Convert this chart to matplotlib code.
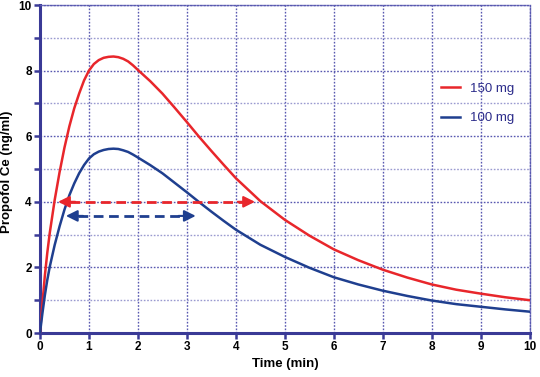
import matplotlib.pyplot as plt
from matplotlib.ticker import MultipleLocator

plt.rcParams['font.family'] = ['Liberation Sans', 'DejaVu Sans']

# time points (min)
time = [0, 0.05, 0.1, 0.15, 0.2, 0.3, 0.4, 0.5, 0.6, 0.7, 0.8, 0.9, 1.0,
        1.1, 1.2, 1.3, 1.4, 1.5, 1.6, 1.7, 1.8, 1.9, 2.0, 2.25, 2.5, 2.75,
        3.0, 3.25, 3.5, 3.75, 4.0, 4.5, 5.0, 5.5, 6, 6.5, 7, 7.5, 8, 8.5,
        9, 9.5, 10]
ce_150 = [0, 0.9, 1.75, 2.45, 3.05, 4.05, 4.9, 5.65, 6.3, 6.85, 7.3, 7.7, 8.0,
          8.2, 8.32, 8.39, 8.42, 8.43, 8.41, 8.36, 8.28, 8.16, 8.02, 7.68, 7.3,
          6.87, 6.43, 5.98, 5.55, 5.13, 4.72, 4.02, 3.45, 2.97, 2.55, 2.22,
          1.93, 1.69, 1.48, 1.32, 1.2, 1.09, 1.0]
ce_100 = [0, 0.6, 1.15, 1.62, 2.02, 2.68, 3.25, 3.76, 4.2, 4.56, 4.87, 5.12,
          5.32, 5.45, 5.53, 5.58, 5.61, 5.62, 5.61, 5.57, 5.52, 5.44, 5.35,
          5.12, 4.87, 4.58, 4.29, 3.99, 3.7, 3.42, 3.15, 2.69, 2.32, 1.99,
          1.7, 1.48, 1.29, 1.13, 0.99, 0.88, 0.8, 0.72, 0.65]

labels = ['150 mg', '100 mg']
colors = ['#e8262b', '#1f3f8f']

# duration above 4 ng/ml: (start, end, level)
arrow_150 = (0.37, 4.39, 4.0)
arrow_100 = (0.53, 3.18, 3.57)

navy = '#3a3a96'
grid_col = '#5858b0'

fig = plt.figure(figsize=(5.4, 3.77), dpi=100)
ax = fig.add_axes([0.074, 0.1167, 0.907, 0.87])

ax.plot(time, ce_150, color=colors[0], lw=1.8, label=labels[0], zorder=4)
ax.plot(time, ce_100, color=colors[1], lw=1.8, label=labels[1], zorder=4)

for (x0, x1, y), c in [(arrow_150, colors[0]), (arrow_100, colors[1])]:
    ax.plot([x0 + 0.25, x1 - 0.25], [y, y], color=c, lw=2.0,
            dashes=(3.5, 2), zorder=5)
    for tip, back in [(x0, x0 + 0.35), (x1, x1 - 0.35)]:
        ax.annotate('', xy=(tip, y), xytext=(back, y),
                    arrowprops=dict(arrowstyle='-|>', color=c, lw=1.5,
                                    mutation_scale=17, shrinkA=0, shrinkB=0),
                    zorder=5)

ax.set_xlim(0, 10)
ax.set_ylim(0, 10)
ax.xaxis.set_major_locator(MultipleLocator(1))
ax.yaxis.set_major_locator(MultipleLocator(2))
ax.yaxis.set_minor_locator(MultipleLocator(1))

ax.grid(which='major', color=grid_col, ls=(0, (1.2, 1.2)), lw=1.0)
ax.grid(which='minor', axis='y', color='#9a9ad0', ls=(0, (1.2, 1.2)), lw=1.0)
ax.set_axisbelow(True)

for side in ['top', 'right']:
    ax.spines[side].set_color(grid_col)
    ax.spines[side].set_linestyle((0, (1.2, 1.2)))
    ax.spines[side].set_linewidth(1.0)
for side in ['left', 'bottom']:
    ax.spines[side].set_color(navy)
    ax.spines[side].set_linewidth(2.2)

ax.tick_params(which='both', direction='out', color=navy, width=1.8,
               length=4, pad=2, labelsize=8.5)
for lab in ax.get_xticklabels() + ax.get_yticklabels():
    lab.set_fontweight('bold')

ax.set_xlabel('Time (min)', fontsize=9.5, fontweight='bold', labelpad=3)
ax.set_ylabel('Propofol Ce (ng/ml)', fontsize=9.5, fontweight='bold')
ax.yaxis.set_label_coords(-0.055, 0.49)

leg = ax.legend(loc='upper left', bbox_to_anchor=(0.818, 0.763), frameon=False,
                fontsize=9.5, handlelength=1.5, handletextpad=0.75,
                labelspacing=1.3, borderpad=0, borderaxespad=0)
for t in leg.get_texts():
    t.set_color('#2b2b8a')

fig.savefig('out.png', dpi=100)
